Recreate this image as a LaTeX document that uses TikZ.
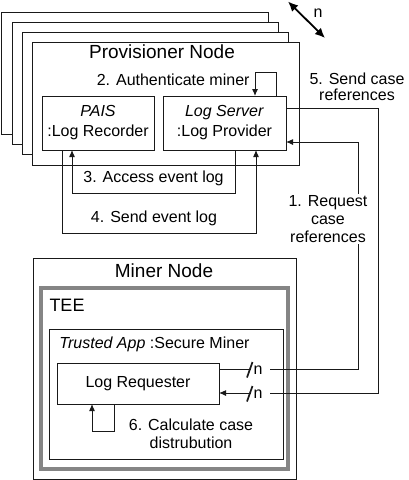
\documentclass[tikz,border=0pt]{standalone}
\usepackage{fontspec}
\setmainfont{Liberation Sans}
\usetikzlibrary{arrows.meta}
\begin{document}
\begin{tikzpicture}[x=1pt,y=-1pt,
  line width=1pt,
  box/.style={draw=black!90, fill=white, outer sep=0pt, inner sep=0pt, align=center,
    font=\fontsize{16}{20}\selectfont},
  lbl/.style={font=\fontsize{16}{18}\selectfont, inner sep=0pt, align=center},
  title/.style={font=\fontsize{19}{22}\selectfont, inner sep=0pt},
  conn/.style={draw=black!90, line width=1pt},
  arr/.style={conn, -{Latex[length=7pt,width=6pt]}},
  dbl/.style={line width=1.8pt, {Latex[length=10pt,width=9pt]}-{Latex[length=10pt,width=9pt]}},
  tee/.style={draw=black!48, line width=4.5pt, outer sep=0pt},
  slash/.style={line width=1.7pt, black!90},
  mult/.style={lbl, fill=white, anchor=west, inner xsep=0pt, inner ysep=1pt}
]
\useasboundingbox (0,0) rectangle (408,480);

% stacked provisioner nodes
\node[box, minimum width=267pt, minimum height=122pt] (p1) at (134.5,73) {};
\node[box, minimum width=266pt, minimum height=122pt] (p2) at (145,83) {};
\node[box, minimum width=266pt, minimum height=122pt] (p3) at (155,93) {};
\node[box, minimum width=267pt, minimum height=123pt] (pn) at (165.5,103.5) {};
\node[title] (ptitle) at (162,52) {Provisioner Node};

\node[box, minimum width=112pt, minimum height=54pt] (pais) at (98,123) {\textit{PAIS}\\:Log Recorder};
\node[box, minimum width=123pt, minimum height=54pt] (ls) at (224.5,123) {\textit{Log Server}\\:Log Provider};

% n multiplicity arrow
\coordinate (na) at (288,1.5);
\coordinate (nb) at (325,38);
\draw[dbl] (na) -- (nb);
\node[lbl] (nlbl) at (318,13) {n};

% miner node
\node[box, minimum width=263pt, minimum height=221pt] (miner) at (164.5,368.5) {};
\node[title] (mtitle) at (164,271) {Miner Node};
\node[tee, minimum width=247pt, minimum height=181pt] (tee) at (164.5,378.5) {};
\node[title, anchor=west, font=\fontsize{18}{20}\selectfont] (teelbl) at (49,305) {TEE};
\node[box, minimum width=234pt, minimum height=130pt] (app) at (166,394) {};
\node[lbl, anchor=west] (applbl) at (59,344) {\textit{Trusted App} :Secure Miner};
\node[box, minimum width=162pt, minimum height=41pt] (lr) at (138,383.5) {Log Requester};

% 1. request case references
\coordinate (q1a) at (358,369);
\coordinate (q1b) at (358,142);
\draw[arr] (lr.east |- q1a) -- (q1a) -- (q1b) -- (ls.east |- q1b);
\node[lbl, fill=white, inner sep=1pt] (l1) at (328,219) {1. Request\\case\\references};
\node[mult] (n1) at (250.5,370) {\kern2.5pt n\kern7.5pt};
\coordinate (s1a) at (247,377.5);
\coordinate (s1b) at (252.5,362);
\draw[slash] (s1a) -- (s1b);

% 5. send case references
\coordinate (q5a) at (378,108);
\coordinate (q5b) at (378,393);
\draw[arr] (ls.east |- q5a) -- (q5a) -- (q5b) -- (lr.east |- q5b);
\node[mult] (n5) at (250.5,394) {\kern2.5pt n\kern7.5pt};
\coordinate (s5a) at (247,401.5);
\coordinate (s5b) at (252.5,386);
\draw[slash] (s5a) -- (s5b);
\node[lbl, font=\fontsize{16}{15.5}\selectfont] (l5) at (357,87) {5. Send case\\references};

% 2. authenticate miner
\coordinate (q2a) at (276,72);
\coordinate (q2b) at (255,72);
\draw[arr] (ls.north -| q2a) -- (q2a) -- (q2b) -- (ls.north -| q2b);
\node[lbl, anchor=east] (l2) at (250,80) {2. Authenticate miner};

% 3. access event log
\coordinate (q3a) at (235,193);
\coordinate (q3b) at (72,193);
\draw[arr] (ls.south -| q3a) -- (q3a) -- (q3b) -- (pais.south -| q3b);
\node[lbl] (l3) at (153.5,178) {3. Access event log};

% 4. send event log
\coordinate (q4a) at (62,233);
\coordinate (q4b) at (256,233);
\draw[arr] (pais.south -| q4a) -- (q4a) -- (q4b) -- (ls.south -| q4b);
\node[lbl] (l4) at (154,218) {4. Send event log};

% 6. calculate case distribution
\coordinate (q6a) at (114,431);
\coordinate (q6b) at (92,431);
\draw[arr] (lr.south -| q6a) -- (q6a) -- (q6b) -- (lr.south -| q6b);
\node[lbl] (l6) at (191,434) {6. Calculate case\\distrubution};
\end{tikzpicture}
\end{document}
